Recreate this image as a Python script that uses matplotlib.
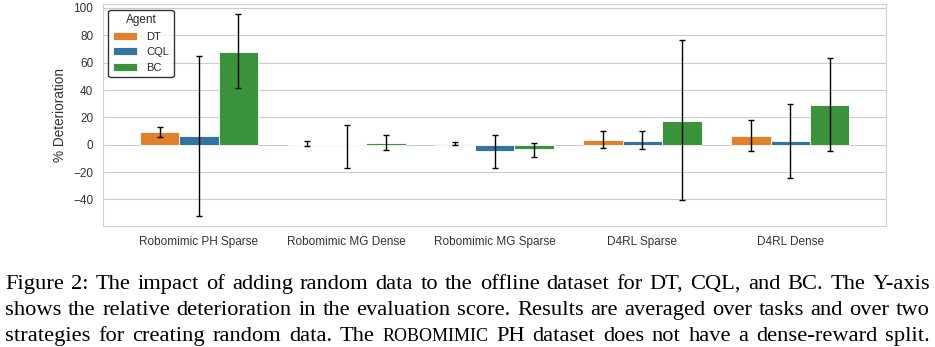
import numpy as np
import matplotlib
matplotlib.use("Agg")
import matplotlib.pyplot as plt
import seaborn as sns

sns.set_style("whitegrid")
plt.rcParams['font.family'] = ['Liberation Sans', 'DejaVu Sans']

# data
datasets = ["Robomimic PH Sparse", "Robomimic MG Dense", "Robomimic MG Sparse",
            "D4RL Sparse", "D4RL Dense"]
agents = ["DT", "CQL", "BC"]
colors = ["#e1812c", "#3274a1", "#3a923a"]

dt_mean = [9.1, 0.0, 0.7, 3.4, 6.1]
dt_lo = [5.9, -1.2, -0.2, -2.2, -4.6]
dt_hi = [13.2, 2.4, 2.0, 9.8, 17.8]

cql_mean = [6.4, -0.5, -4.6, 2.9, 2.4]
cql_lo = [-52.0, -16.8, -17.0, -3.2, -24.1]
cql_hi = [65.0, 14.2, 6.9, 9.8, 30.0]

bc_mean = [68.0, 1.0, -3.4, 17.6, 28.8]
bc_lo = [41.7, -4.1, -9.0, -40.5, -4.9]
bc_hi = [95.4, 6.9, 1.0, 76.4, 63.7]

means = [dt_mean, cql_mean, bc_mean]
lows = [dt_lo, cql_lo, bc_lo]
highs = [dt_hi, cql_hi, bc_hi]

caption = [
    [("Figure 2: The impact of adding random data to the offline dataset for DT, CQL, and BC. The Y-axis", 1.0)],
    [("shows the relative deterioration in the evaluation score. Results are averaged over tasks and over two", 1.0)],
    [("strategies for creating random data. The", 1.0), ("ROBOMIMIC", 0.8),
     ("PH dataset does not have a dense-reward split.", 1.0)],
]

fig = plt.figure(figsize=(9.35, 3.47), dpi=100)
ax = fig.add_axes([0.110, 0.349, 0.838, 0.639])

x = np.arange(len(datasets))
w = 0.8 / len(agents)
for i, name in enumerate(agents):
    pos = x + (i - 1) * w
    ax.bar(pos, means[i], w, color=colors[i], edgecolor="white", linewidth=0.6,
           label=name, zorder=2)
    m = np.array(means[i])
    err = [m - np.array(lows[i]), np.array(highs[i]) - m]
    ax.errorbar(pos, m, yerr=err, fmt="none", ecolor="black", elinewidth=1,
                capsize=2.2, capthick=1, zorder=3)

ax.set_xticks(x)
ax.set_xticklabels(datasets, fontsize=8.5, color="#333333")
ax.set_xlim(-0.65, 4.65)
ax.set_yticks([-40, -20, 0, 20, 40, 60, 80, 100])
ax.tick_params(axis="y", labelsize=8.5, colors="#333333")
ax.tick_params(axis="x", length=0, pad=7)
ax.set_ylabel("% Deterioration", fontsize=9.8, color="#333333")
ax.grid(axis="x", visible=False)
ax.set_axisbelow(True)
for s in ax.spines.values():
    s.set_color("#d0d0d0")

leg = ax.legend(title="Agent", loc="upper left", fontsize=8, title_fontsize=8.5,
                frameon=True, fancybox=True, handlelength=2.2,
                borderaxespad=0.5)
leg.get_frame().set_edgecolor("black")
leg.get_frame().set_linewidth(1)

# justified caption below the chart
fig.canvas.draw()
renderer = fig.canvas.get_renderer()
base = 16.2
x0, x1 = 5 / 935, 930 / 935
baselines = [289, 315, 341]
for line, yy in zip(caption, baselines):
    words = []
    for seg, scale in line:
        for wd in seg.split(" "):
            words.append((wd, scale))
    texts = [fig.text(0, 1 - yy / 347, wd, fontsize=base * sc, family="Liberation Serif",
                      va="baseline", ha="left", color="black") for wd, sc in words]
    widths = [t.get_window_extent(renderer).width / fig.bbox.width for t in texts]
    gap = (x1 - x0 - sum(widths)) / (len(texts) - 1)
    cur = x0
    for t, wdt in zip(texts, widths):
        t.set_x(cur)
        cur += wdt + gap

fig.savefig("out.png", dpi=100)
